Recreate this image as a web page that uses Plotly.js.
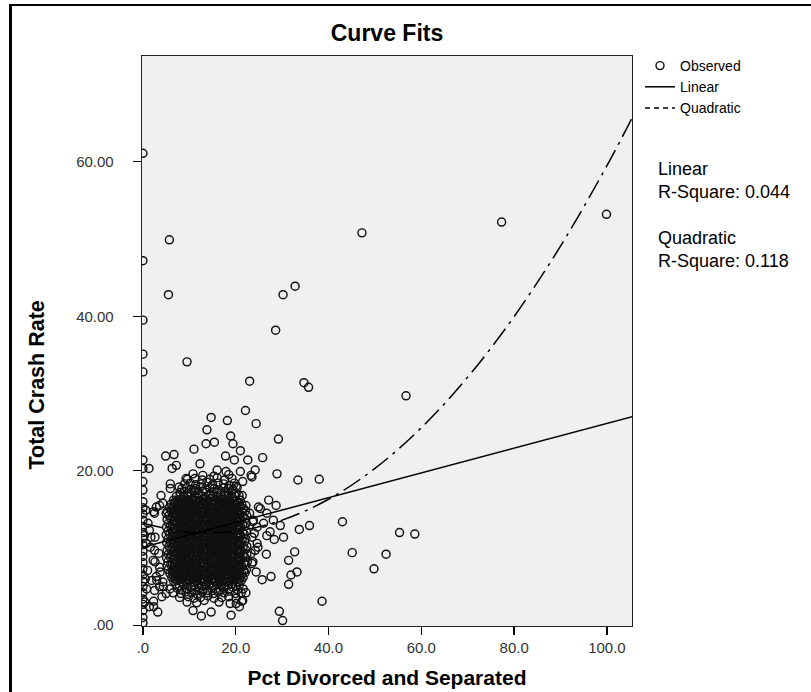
<!DOCTYPE html>
<html><head><meta charset="utf-8">
<script src="https://cdn.plot.ly/plotly-3.0.1.min.js"></script>
<style>
html,body{margin:0;padding:0;background:#fff;overflow:hidden}
#wrap{position:relative;width:811px;height:692px}
#chart{width:811px;height:692px}
#frame{position:absolute;left:9px;top:4px;width:1000px;height:1000px;border-left:3px solid #000;border-top:2px solid #000;pointer-events:none}
</style></head><body>
<div id="wrap"><div id="chart"></div><div id="frame"></div></div>
<script>
// ---- Tick labels ----
const xTickVals = [0, 20, 40, 60, 80, 100];
const xTickText = ['.0', '20.0', '40.0', '60.0', '80.0', '100.0'];
const yTickVals = [0, 20, 40, 60];
const yTickText = ['.00', '20.00', '40.00', '60.00'];

// ---- Observed: scattered points (Pct Divorced and Separated, Total Crash Rate) ----
const outlierPct = [
  0, 5.7, 0, 47.2, 77.3, 99.9, 5.5, 30.2, 32.8, 0,
  28.6, 0, 0, 9.5, 23.0, 34.7, 35.7, 56.7, 24.4, 29.2,
  25.8, 24.2, 23.5, 28.9, 33.4, 38.0, 27.1, 28.7, 25.3, 29.6,
  33.7, 35.9, 43.0, 55.3, 58.6, 30.3, 28.3, 26.6, 32.7, 45.1,
  52.4, 31.4, 49.8, 33.2, 31.9, 25.7, 27.6, 31.4, 38.6, 29.4,
  30.1, 23.8, 24.6, 26.0, 23.5, 24.6, 24.2, 23.5, 27.4, 26.7,
  22.1, 14.7, 18.2, 13.8, 18.9, 13.6, 15.4, 19.4, 11.0, 21.0,
  4.9, 6.7, 17.8, 19.7, 22.6, 12.3, 7.2, 6.3, 0, 0,
  1.3, 16.0, 17.9, 21.0, 23.3, 9.3, 10.8, 12.9, 15.3, 18.5,
  20.1, 21.5, 5.9, 5.9, 7.8, 3.9, 0, 0, 0, 21.4,
  3.6, 1.1, 1.4, 0.7, 2.5, 2.2, 3.6, 2.9, 4.3, 3.6,
  2.5, 5.0, 1.4, 3.2, 0, 10.8, 12.6, 14.7, 19.0, 20.8,
  21.5, 20.1, 22.2, 2.9, 4.3, 5.0, 2.5, 23.7, 23.3, 24.8,
  24.0, 23.7, 23.0, 22.2, 24.4, 0, 0, 0, 0, 0,
  0, 0, 0, 0, 0, 0, 0, 0, 0, 0,
  0, 0, 0, 0, 0.4, 0.5, 0.3, 0.6, 1.0, 0.8,
  1.7, 1.9, 24.9, 26.7, 28.1, 2.3, 2.6, 1.6, 3.4, 2.6,
  3.7, 3.0, 4.4, 4.1, 2.3, 2.3
];
const outlierCrash = [
  61.1, 49.9, 47.2, 50.8, 52.2, 53.2, 42.8, 42.8, 43.9, 39.5,
  38.2, 35.1, 32.8, 34.1, 31.6, 31.4, 30.8, 29.7, 26.1, 24.1,
  21.7, 20.1, 19.2, 19.6, 18.8, 18.9, 16.2, 15.5, 15.1, 12.9,
  12.4, 12.9, 13.4, 12.0, 11.8, 11.4, 11.1, 9.2, 9.5, 9.4,
  9.2, 8.4, 7.3, 6.9, 6.5, 5.9, 6.3, 5.3, 3.1, 1.8,
  0.6, 13.6, 12.7, 13.2, 11.4, 10.6, 9.7, 8.0, 12.1, 11.6,
  27.8, 26.9, 26.5, 25.3, 24.5, 23.5, 23.7, 23.5, 22.8, 22.6,
  21.9, 22.1, 21.9, 21.4, 21.4, 20.9, 20.7, 20.3, 21.4, 20.3,
  20.3, 20.1, 19.9, 19.9, 19.4, 19.0, 19.6, 19.4, 19.3, 19.5,
  18.0, 18.6, 18.3, 17.7, 17.9, 16.8, 18.6, 17.5, 16.0, 16.8,
  15.5, 13.2, 12.3, 10.6, 9.7, 8.4, 7.5, 6.3, 5.6, 5.0,
  4.5, 4.1, 2.4, 1.7, 1.9, 1.9, 1.2, 1.7, 1.3, 2.4,
  3.2, 2.8, 4.2, 15.3, 15.8, 14.5, 14.5, 8.2, 9.3, 10.1,
  11.9, 13.4, 14.5, 15.5, 6.9, 0.3, 1.0, 2.7, 3.4, 4.2,
  5.0, 5.7, 6.5, 7.3, 8.1, 8.9, 9.6, 10.4, 11.2, 12.0,
  12.8, 13.6, 14.4, 15.2, 3.0, 6.0, 11.6, 14.9, 7.1, 4.7,
  11.4, 5.8, 15.3, 14.5, 13.6, 14.7, 11.4, 10.1, 9.3, 8.2,
  6.9, 5.8, 5.0, 3.7, 3.1, 2.4
];

// ---- Observed: dense cluster, read row by row ----
const clusterPct = [
  9.5, 11.6, 13.2, 16.4, 18.8, 21.3,
  7.9, 9.8, 11.0, 12.4, 14.0, 15.3, 17.0, 18.5, 20.1,
  6.5, 8.2, 9.3, 10.5, 11.7, 12.8, 13.9, 15.2, 16.3, 17.5, 18.7, 19.9, 21.2,
  5.8, 7.4, 8.4, 9.4, 10.3, 11.2, 12.1, 13.0, 13.9, 14.8, 15.7, 16.6, 17.5, 18.5, 19.4, 20.4, 21.6,
  7.1, 7.9, 8.8, 9.5, 10.4, 11.1, 12.0, 12.7, 13.6, 14.3, 15.2, 15.9, 16.8, 17.5, 18.4, 19.1, 20.0, 20.8,
  6.6, 7.4, 8.3, 9.1, 9.9, 10.8, 11.5, 12.4, 13.2, 14.0, 14.8, 15.6, 16.4, 17.2, 18.0, 18.8, 19.6, 20.5, 21.2,
  6.2, 7.0, 7.8, 8.7, 9.4, 10.3, 11.1, 11.9, 12.8, 13.5, 14.4, 15.2, 16.0, 16.9, 17.6, 18.5, 19.3, 20.1, 20.9, 21.6,
  5.8, 6.6, 7.5, 8.2, 9.0, 9.9, 10.7, 11.5, 12.3, 13.1, 14.0, 14.7, 15.6, 16.4, 17.2, 18.0, 18.9, 19.7, 20.5, 21.3, 22.0,
  5.5, 6.3, 7.1, 7.9, 8.7, 9.5, 10.3, 11.1, 12.0, 12.7, 13.6, 14.4, 15.2, 16.0, 16.8, 17.7, 18.4, 19.3, 20.1, 20.9, 21.7, 22.3,
  5.2, 6.0, 6.8, 7.6, 8.4, 9.2, 10.0, 10.8, 11.6, 12.4, 13.2, 14.0, 14.8, 15.6, 16.4, 17.3, 18.1, 18.9, 19.7, 20.5, 21.3, 22.1,
  5.4, 6.3, 7.1, 7.9, 8.7, 9.5, 10.4, 11.2, 12.0, 12.8, 13.6, 14.4, 15.3, 16.1, 16.9, 17.7, 18.5, 19.3, 20.2, 21.0, 21.8, 22.5,
  5.1, 5.9, 6.7, 7.5, 8.3, 9.1, 9.9, 10.7, 11.5, 12.3, 13.1, 13.9, 14.7, 15.5, 16.3, 17.1, 17.9, 18.8, 19.6, 20.4, 21.2, 22.0,
  5.5, 6.2, 7.1, 7.8, 8.7, 9.4, 10.3, 11.0, 11.9, 12.6, 13.5, 14.3, 15.1, 15.9, 16.7, 17.5, 18.3, 19.1, 19.9, 20.8, 21.6, 22.4,
  5.2, 6.0, 6.8, 7.6, 8.4, 9.2, 10.0, 10.8, 11.6, 12.4, 13.2, 14.0, 14.8, 15.6, 16.4, 17.2, 18.0, 18.8, 19.6, 20.4, 21.2, 22.1,
  5.6, 6.4, 7.2, 8.0, 8.8, 9.6, 10.4, 11.2, 12.0, 12.8, 13.6, 14.4, 15.2, 16.0, 16.8, 17.6, 18.4, 19.2, 20.0, 20.8, 21.6, 22.4,
  5.1, 5.9, 6.7, 7.5, 8.3, 9.1, 9.9, 10.7, 11.5, 12.3, 13.1, 13.9, 14.7, 15.5, 16.3, 17.1, 17.9, 18.7, 19.5, 20.3, 21.1, 21.9,
  5.4, 6.2, 7.0, 7.8, 8.6, 9.4, 10.2, 11.0, 11.8, 12.6, 13.4, 14.2, 15.0, 15.8, 16.6, 17.4, 18.2, 19.0, 19.8, 20.6, 21.4, 22.2,
  5.0, 5.8, 6.6, 7.4, 8.2, 9.0, 9.8, 10.6, 11.4, 12.2, 13.0, 13.8, 14.6, 15.4, 16.2, 17.0, 17.8, 18.6, 19.4, 20.2, 21.0, 21.8,
  5.4, 6.3, 7.1, 7.9, 8.7, 9.5, 10.3, 11.1, 11.9, 12.7, 13.5, 14.3, 15.1, 15.9, 16.7, 17.5, 18.3, 19.1, 19.9, 20.7, 21.5, 22.3,
  5.1, 5.9, 6.7, 7.5, 8.3, 9.1, 9.9, 10.7, 11.5, 12.3, 13.1, 13.9, 14.7, 15.5, 16.3, 17.1, 17.9, 18.7, 19.5, 20.3, 21.1, 21.9,
  5.5, 6.3, 7.1, 7.9, 8.7, 9.5, 10.3, 11.1, 11.9, 12.7, 13.5, 14.3, 15.1, 15.9, 16.7, 17.5, 18.3, 19.1, 19.9, 20.7, 21.5, 22.3,
  5.2, 6.0, 6.8, 7.6, 8.4, 9.2, 10.0, 10.8, 11.6, 12.4, 13.2, 14.0, 14.8, 15.6, 16.4, 17.2, 18.0, 18.8, 19.6, 20.4, 21.2, 22.0,
  5.6, 6.4, 7.2, 8.0, 8.8, 9.6, 10.4, 11.2, 12.0, 12.8, 13.6, 14.4, 15.2, 16.0, 16.8, 17.6, 18.4, 19.2, 20.0, 20.8, 21.6, 22.4,
  5.3, 6.1, 6.9, 7.7, 8.5, 9.3, 10.1, 10.9, 11.7, 12.5, 13.3, 14.1, 14.9, 15.7, 16.5, 17.3, 18.1, 18.9, 19.7, 20.5, 21.3, 22.1,
  5.7, 6.5, 7.3, 8.1, 8.9, 9.7, 10.5, 11.3, 12.1, 12.9, 13.7, 14.5, 15.3, 16.1, 16.9, 17.7, 18.5, 19.3, 20.1, 20.9, 21.7,
  6.1, 6.9, 7.7, 8.5, 9.3, 10.1, 10.9, 11.7, 12.5, 13.3, 14.1, 14.9, 15.7, 16.5, 17.3, 18.1, 18.9, 19.7, 20.5, 21.3,
  6.6, 7.4, 8.2, 9.0, 9.8, 10.6, 11.4, 12.2, 13.0, 13.8, 14.6, 15.4, 16.2, 17.0, 17.8, 18.6, 19.4, 20.2, 21.0,
  7.2, 8.0, 8.8, 9.6, 10.4, 11.2, 12.0, 12.8, 13.6, 14.4, 15.2, 16.0, 16.8, 17.6, 18.4, 19.2, 20.0, 20.7,
  8.0, 8.8, 9.6, 10.4, 11.2, 12.0, 12.8, 13.6, 14.4, 15.2, 16.0, 16.8, 17.6, 18.4, 19.2, 20.1,
  8.4, 9.4, 10.4, 11.4, 12.4, 13.4, 14.4, 15.4, 16.4, 17.4, 18.4, 19.4, 20.3,
  9.0, 10.2, 11.4, 12.6, 13.8, 15.0, 16.2, 17.4, 18.6, 19.7,
  9.6, 11.2, 12.8, 14.4, 16.0, 17.6, 19.2
];
const clusterCrash = [
  3.0, 2.9, 3.2, 3.0, 2.8, 3.1,
  3.6, 3.7, 3.5, 3.6, 3.8, 3.5, 3.6, 3.7, 3.5,
  4.2, 4.1, 4.3, 4.2, 4.0, 4.3, 4.2, 4.1, 4.3, 4.2, 4.4, 4.1, 4.2,
  4.7, 4.8, 4.6, 4.7, 4.9, 4.6, 4.8, 4.7, 4.5, 4.8, 4.7, 4.6, 4.8, 4.7, 4.9, 4.6, 4.7,
  5.3, 5.1, 5.2, 5.4, 5.0, 5.2, 5.3, 5.1, 5.2, 5.4, 5.1, 5.2, 5.3, 5.0, 5.2, 5.3, 5.1, 5.2,
  5.7, 5.8, 5.6, 5.7, 5.9, 5.6, 5.7, 5.8, 5.6, 5.7, 5.9, 5.6, 5.8, 5.7, 5.6, 5.8, 5.7, 5.6, 5.8,
  6.2, 6.3, 6.1, 6.2, 6.4, 6.1, 6.3, 6.2, 6.0, 6.3, 6.2, 6.1, 6.3, 6.2, 6.4, 6.1, 6.2, 6.3, 6.1, 6.2,
  6.7, 6.8, 6.6, 6.7, 6.9, 6.6, 6.8, 6.7, 6.5, 6.8, 6.7, 6.6, 6.8, 6.7, 6.9, 6.6, 6.7, 6.8, 6.6, 6.7, 6.8,
  7.2, 7.1, 7.3, 7.2, 7.0, 7.3, 7.2, 7.1, 7.3, 7.2, 7.4, 7.1, 7.2, 7.3, 7.1, 7.2, 7.4, 7.1, 7.2, 7.3, 7.1, 7.2,
  7.7, 7.8, 7.6, 7.7, 7.9, 7.6, 7.7, 7.8, 7.6, 7.7, 7.9, 7.7, 7.6, 7.8, 7.7, 7.6, 7.8, 7.7, 7.9, 7.6, 7.7, 7.8,
  8.2, 8.1, 8.3, 8.2, 8.0, 8.3, 8.2, 8.1, 8.3, 8.2, 8.4, 8.1, 8.2, 8.3, 8.1, 8.2, 8.4, 8.1, 8.2, 8.3, 8.1, 8.2,
  8.7, 8.8, 8.6, 8.7, 8.9, 8.6, 8.7, 8.8, 8.6, 8.7, 8.9, 8.7, 8.6, 8.8, 8.7, 8.6, 8.8, 8.7, 8.9, 8.6, 8.7, 8.8,
  9.2, 9.1, 9.3, 9.2, 9.0, 9.3, 9.2, 9.1, 9.3, 9.2, 9.4, 9.1, 9.2, 9.3, 9.1, 9.2, 9.4, 9.1, 9.2, 9.3, 9.1, 9.2,
  9.7, 9.8, 9.6, 9.7, 9.9, 9.6, 9.7, 9.8, 9.6, 9.7, 9.9, 9.7, 9.6, 9.8, 9.7, 9.6, 9.8, 9.7, 9.9, 9.6, 9.7, 9.8,
  10.2, 10.1, 10.3, 10.2, 10.0, 10.3, 10.2, 10.1, 10.3, 10.2, 10.4, 10.1, 10.2, 10.3, 10.1, 10.2, 10.4, 10.1, 10.2, 10.3, 10.1, 10.2,
  10.7, 10.8, 10.6, 10.7, 10.9, 10.6, 10.7, 10.8, 10.6, 10.7, 10.9, 10.7, 10.6, 10.8, 10.7, 10.6, 10.8, 10.7, 10.9, 10.6, 10.7, 10.8,
  11.2, 11.1, 11.3, 11.2, 11.0, 11.3, 11.2, 11.1, 11.3, 11.2, 11.4, 11.1, 11.2, 11.3, 11.1, 11.2, 11.4, 11.1, 11.2, 11.3, 11.1, 11.2,
  11.7, 11.8, 11.6, 11.7, 11.9, 11.6, 11.7, 11.8, 11.6, 11.7, 11.9, 11.7, 11.6, 11.8, 11.7, 11.6, 11.8, 11.7, 11.9, 11.6, 11.7, 11.8,
  12.2, 12.1, 12.3, 12.2, 12.0, 12.3, 12.2, 12.1, 12.3, 12.2, 12.4, 12.1, 12.2, 12.3, 12.1, 12.2, 12.4, 12.1, 12.2, 12.3, 12.1, 12.2,
  12.7, 12.8, 12.6, 12.7, 12.9, 12.6, 12.7, 12.8, 12.6, 12.7, 12.9, 12.7, 12.6, 12.8, 12.7, 12.6, 12.8, 12.7, 12.9, 12.6, 12.7, 12.8,
  13.2, 13.1, 13.3, 13.2, 13.0, 13.3, 13.2, 13.1, 13.3, 13.2, 13.4, 13.1, 13.2, 13.3, 13.1, 13.2, 13.4, 13.1, 13.2, 13.3, 13.1, 13.2,
  13.7, 13.8, 13.6, 13.7, 13.9, 13.6, 13.7, 13.8, 13.6, 13.7, 13.9, 13.7, 13.6, 13.8, 13.7, 13.6, 13.8, 13.7, 13.9, 13.6, 13.7, 13.8,
  14.2, 14.1, 14.3, 14.2, 14.0, 14.3, 14.2, 14.1, 14.3, 14.2, 14.4, 14.1, 14.2, 14.3, 14.1, 14.2, 14.4, 14.1, 14.2, 14.3, 14.1, 14.2,
  14.7, 14.8, 14.6, 14.7, 14.9, 14.6, 14.7, 14.8, 14.6, 14.7, 14.9, 14.7, 14.6, 14.8, 14.7, 14.6, 14.8, 14.7, 14.9, 14.6, 14.7, 14.8,
  15.2, 15.1, 15.3, 15.2, 15.0, 15.3, 15.2, 15.1, 15.3, 15.2, 15.4, 15.1, 15.2, 15.3, 15.1, 15.2, 15.4, 15.1, 15.2, 15.3, 15.1,
  15.7, 15.8, 15.6, 15.7, 15.9, 15.6, 15.7, 15.8, 15.6, 15.7, 15.9, 15.7, 15.6, 15.8, 15.7, 15.6, 15.8, 15.7, 15.9, 15.6,
  16.2, 16.1, 16.3, 16.2, 16.0, 16.3, 16.2, 16.1, 16.3, 16.2, 16.4, 16.1, 16.2, 16.3, 16.1, 16.2, 16.4, 16.1, 16.2,
  16.7, 16.8, 16.6, 16.7, 16.9, 16.6, 16.8, 16.7, 16.5, 16.8, 16.7, 16.6, 16.8, 16.7, 16.9, 16.6, 16.7, 16.8,
  17.2, 17.3, 17.1, 17.2, 17.4, 17.1, 17.3, 17.2, 17.0, 17.3, 17.2, 17.1, 17.3, 17.2, 17.4, 17.1,
  17.7, 17.8, 17.6, 17.7, 17.9, 17.6, 17.8, 17.7, 17.5, 17.8, 17.7, 17.6, 17.8,
  18.3, 18.4, 18.2, 18.3, 18.5, 18.2, 18.4, 18.3, 18.1, 18.4,
  18.9, 19.0, 18.8, 18.9, 19.1, 18.8, 19.0
];

// ---- Observed: core of the cluster, rows between the rows above ----
const corePct = [
  6.9, 7.7, 8.5, 9.3, 10.1, 10.9, 11.7, 12.5, 13.3, 14.1, 14.9, 15.7, 16.5, 17.3, 18.1, 18.9, 19.7, 20.5,
  6.5, 7.3, 8.1, 8.9, 9.7, 10.5, 11.3, 12.1, 12.9, 13.7, 14.5, 15.3, 16.1, 16.9, 17.7, 18.5, 19.3, 20.1, 20.9,
  6.9, 7.7, 8.5, 9.3, 10.1, 10.9, 11.7, 12.5, 13.3, 14.1, 14.9, 15.7, 16.5, 17.3, 18.1, 18.9, 19.7, 20.5,
  6.5, 7.3, 8.1, 8.9, 9.7, 10.5, 11.3, 12.1, 12.9, 13.7, 14.5, 15.3, 16.1, 16.9, 17.7, 18.5, 19.3, 20.1, 20.9,
  6.9, 7.7, 8.5, 9.3, 10.1, 10.9, 11.7, 12.5, 13.3, 14.1, 14.9, 15.7, 16.5, 17.3, 18.1, 18.9, 19.7, 20.5,
  6.5, 7.3, 8.1, 8.9, 9.7, 10.5, 11.3, 12.1, 12.9, 13.7, 14.5, 15.3, 16.1, 16.9, 17.7, 18.5, 19.3, 20.1, 20.9,
  6.9, 7.7, 8.5, 9.3, 10.1, 10.9, 11.7, 12.5, 13.3, 14.1, 14.9, 15.7, 16.5, 17.3, 18.1, 18.9, 19.7, 20.5,
  6.5, 7.3, 8.1, 8.9, 9.7, 10.5, 11.3, 12.1, 12.9, 13.7, 14.5, 15.3, 16.1, 16.9, 17.7, 18.5, 19.3, 20.1, 20.9,
  6.9, 7.7, 8.5, 9.3, 10.1, 10.9, 11.7, 12.5, 13.3, 14.1, 14.9, 15.7, 16.5, 17.3, 18.1, 18.9, 19.7, 20.5,
  6.5, 7.3, 8.1, 8.9, 9.7, 10.5, 11.3, 12.1, 12.9, 13.7, 14.5, 15.3, 16.1, 16.9, 17.7, 18.5, 19.3, 20.1, 20.9,
  6.9, 7.7, 8.5, 9.3, 10.1, 10.9, 11.7, 12.5, 13.3, 14.1, 14.9, 15.7, 16.5, 17.3, 18.1, 18.9, 19.7, 20.5,
  6.5, 7.3, 8.1, 8.9, 9.7, 10.5, 11.3, 12.1, 12.9, 13.7, 14.5, 15.3, 16.1, 16.9, 17.7, 18.5, 19.3, 20.1, 20.9,
  6.9, 7.7, 8.5, 9.3, 10.1, 10.9, 11.7, 12.5, 13.3, 14.1, 14.9, 15.7, 16.5, 17.3, 18.1, 18.9, 19.7, 20.5,
  6.5, 7.3, 8.1, 8.9, 9.7, 10.5, 11.3, 12.1, 12.9, 13.7, 14.5, 15.3, 16.1, 16.9, 17.7, 18.5, 19.3, 20.1, 20.9,
  6.9, 7.7, 8.5, 9.3, 10.1, 10.9, 11.7, 12.5, 13.3, 14.1, 14.9, 15.7, 16.5, 17.3, 18.1, 18.9, 19.7, 20.5,
  6.5, 7.3, 8.1, 8.9, 9.7, 10.5, 11.3, 12.1, 12.9, 13.7, 14.5, 15.3, 16.1, 16.9, 17.7, 18.5, 19.3, 20.1, 20.9,
  6.9, 7.7, 8.5, 9.3, 10.1, 10.9, 11.7, 12.5, 13.3, 14.1, 14.9, 15.7, 16.5, 17.3, 18.1, 18.9, 19.7, 20.5,
  6.5, 7.3, 8.1, 8.9, 9.7, 10.5, 11.3, 12.1, 12.9, 13.7, 14.5, 15.3, 16.1, 16.9, 17.7, 18.5, 19.3, 20.1, 20.9,
  6.9, 7.7, 8.5, 9.3, 10.1, 10.9, 11.7, 12.5, 13.3, 14.1, 14.9, 15.7, 16.5, 17.3, 18.1, 18.9, 19.7, 20.5,
  6.5, 7.3, 8.1, 8.9, 9.7, 10.5, 11.3, 12.1, 12.9, 13.7, 14.5, 15.3, 16.1, 16.9, 17.7, 18.5, 19.3, 20.1, 20.9,
  6.9, 7.7, 8.5, 9.3, 10.1, 10.9, 11.7, 12.5, 13.3, 14.1, 14.9, 15.7, 16.5, 17.3, 18.1, 18.9, 19.7, 20.5
];
const coreCrash = [
  5.95, 5.9, 6.0, 5.95, 5.85, 6.05, 5.95, 6.0, 5.9, 5.95, 6.05, 5.85, 5.95, 5.9, 6.0, 5.95, 6.05, 5.9,
  6.45, 6.5, 6.4, 6.45, 6.55, 6.35, 6.45, 6.4, 6.5, 6.45, 6.35, 6.55, 6.45, 6.5, 6.4, 6.45, 6.35, 6.5, 6.45,
  6.95, 6.9, 7.0, 6.95, 6.85, 7.05, 6.95, 7.0, 6.9, 6.95, 7.05, 6.85, 6.95, 6.9, 7.0, 6.95, 7.05, 6.9,
  7.45, 7.5, 7.4, 7.45, 7.55, 7.35, 7.45, 7.4, 7.5, 7.45, 7.35, 7.55, 7.45, 7.5, 7.4, 7.45, 7.35, 7.5, 7.45,
  7.95, 7.9, 8.0, 7.95, 7.85, 8.05, 7.95, 8.0, 7.9, 7.95, 8.05, 7.85, 7.95, 7.9, 8.0, 7.95, 8.05, 7.9,
  8.45, 8.5, 8.4, 8.45, 8.55, 8.35, 8.45, 8.4, 8.5, 8.45, 8.35, 8.55, 8.45, 8.5, 8.4, 8.45, 8.35, 8.5, 8.45,
  8.95, 8.9, 9.0, 8.95, 8.85, 9.05, 8.95, 9.0, 8.9, 8.95, 9.05, 8.85, 8.95, 8.9, 9.0, 8.95, 9.05, 8.9,
  9.45, 9.5, 9.4, 9.45, 9.55, 9.35, 9.45, 9.4, 9.5, 9.45, 9.35, 9.55, 9.45, 9.5, 9.4, 9.45, 9.35, 9.5, 9.45,
  9.95, 9.9, 10.0, 9.95, 9.85, 10.05, 9.95, 10.0, 9.9, 9.95, 10.05, 9.85, 9.95, 9.9, 10.0, 9.95, 10.05, 9.9,
  10.45, 10.5, 10.4, 10.45, 10.55, 10.35, 10.45, 10.4, 10.5, 10.45, 10.35, 10.55, 10.45, 10.5, 10.4, 10.45, 10.35, 10.5, 10.45,
  10.95, 10.9, 11.0, 10.95, 10.85, 11.05, 10.95, 11.0, 10.9, 10.95, 11.05, 10.85, 10.95, 10.9, 11.0, 10.95, 11.05, 10.9,
  11.45, 11.5, 11.4, 11.45, 11.55, 11.35, 11.45, 11.4, 11.5, 11.45, 11.35, 11.55, 11.45, 11.5, 11.4, 11.45, 11.35, 11.5, 11.45,
  11.95, 11.9, 12.0, 11.95, 11.85, 12.05, 11.95, 12.0, 11.9, 11.95, 12.05, 11.85, 11.95, 11.9, 12.0, 11.95, 12.05, 11.9,
  12.45, 12.5, 12.4, 12.45, 12.55, 12.35, 12.45, 12.4, 12.5, 12.45, 12.35, 12.55, 12.45, 12.5, 12.4, 12.45, 12.35, 12.5, 12.45,
  12.95, 12.9, 13.0, 12.95, 12.85, 13.05, 12.95, 13.0, 12.9, 12.95, 13.05, 12.85, 12.95, 12.9, 13.0, 12.95, 13.05, 12.9,
  13.45, 13.5, 13.4, 13.45, 13.55, 13.35, 13.45, 13.4, 13.5, 13.45, 13.35, 13.55, 13.45, 13.5, 13.4, 13.45, 13.35, 13.5, 13.45,
  13.95, 13.9, 14.0, 13.95, 13.85, 14.05, 13.95, 14.0, 13.9, 13.95, 14.05, 13.85, 13.95, 13.9, 14.0, 13.95, 14.05, 13.9,
  14.45, 14.5, 14.4, 14.45, 14.55, 14.35, 14.45, 14.4, 14.5, 14.45, 14.35, 14.55, 14.45, 14.5, 14.4, 14.45, 14.35, 14.5, 14.45,
  14.95, 14.9, 15.0, 14.95, 14.85, 15.05, 14.95, 15.0, 14.9, 14.95, 15.05, 14.85, 14.95, 14.9, 15.0, 14.95, 15.05, 14.9,
  15.45, 15.5, 15.4, 15.45, 15.55, 15.35, 15.45, 15.4, 15.5, 15.45, 15.35, 15.55, 15.45, 15.5, 15.4, 15.45, 15.35, 15.5, 15.45,
  15.95, 15.9, 16.0, 15.95, 15.85, 16.05, 15.95, 16.0, 15.9, 15.95, 16.05, 15.85, 15.95, 15.9, 16.0, 15.95, 16.05, 15.9
];

// ---- Fitted curves ----
const linearX = [0, 106];
const linearY = [10.1, 27.1];
const quadX = [0, 10, 20, 30, 40, 50, 60, 70, 80, 90, 100, 106];
const quadY = [13.2, 12.05, 12.19, 13.61, 16.31, 20.3, 25.57, 32.13, 39.97, 49.09, 59.5, 66.36];

// ---- R-square values ----
const fitNames = ['Linear', 'Quadratic'];
const rSquare = ['0.044', '0.118'];

const FONT = '"Liberation Sans", Arial, Helvetica, sans-serif';
const obsX = outlierPct.concat(clusterPct, corePct);
const obsY = outlierCrash.concat(clusterCrash, coreCrash);

const traces = [
  {type: 'scatter', mode: 'markers', name: 'Observed', x: obsX, y: obsY,
   marker: {symbol: 'circle-open', size: 8, color: '#111', line: {width: 1.45, color: '#111'}}},
  {type: 'scatter', mode: 'lines', name: fitNames[0], x: linearX, y: linearY,
   line: {color: '#000', width: 1.5}},
  {type: 'scatter', mode: 'lines', name: fitNames[1], x: quadX, y: quadY, showlegend: false,
   line: {color: '#000', width: 1.5, dash: '20px,6px,3px,6px', shape: 'spline'}},
  {type: 'scatter', mode: 'lines', name: fitNames[1], x: [null], y: [null],
   line: {color: '#000', width: 1.5, dash: '5px,4px'}}
];

const L = 142, R = 632, T = 56, B = 626;
const pw = R - L, ph = B - T;
const px = v => (v - L) / pw;
const py = v => (B - v) / ph;

const layout = {
  width: 811, height: 692,
  margin: {l: L, r: 811 - R, t: T, b: 692 - B, pad: 0},
  paper_bgcolor: '#ffffff', plot_bgcolor: '#f0f0f0',
  font: {family: FONT, color: '#000'},
  title: {text: '<b>Curve Fits</b>', font: {family: FONT, size: 23, color: '#000'},
          x: 0.5, xref: 'paper', xanchor: 'center', y: 1 - 33 / 692, yref: 'container', yanchor: 'middle'},
  showlegend: true,
  legend: {x: px(640), xanchor: 'left', y: py(50), yanchor: 'top', bgcolor: 'rgba(0,0,0,0)',
           font: {family: FONT, size: 14, color: '#000'}, tracegroupgap: 0},
  xaxis: {range: [-0.2, 105.4], tickmode: 'array', tickvals: xTickVals, ticktext: xTickText,
          ticks: 'outside', ticklen: 8, tickwidth: 1.3, tickcolor: '#000',
          showline: true, linecolor: '#222', linewidth: 1.3, mirror: true,
          showgrid: false, zeroline: false, tickfont: {family: FONT, size: 15, color: '#333'},
          title: {text: '<b>Pct Divorced and Separated</b>', font: {family: FONT, size: 21, color: '#000'}, standoff: 15}},
  yaxis: {range: [-0.1, 73.7], tickmode: 'array', tickvals: yTickVals, ticktext: yTickText,
          ticks: 'outside', ticklen: 8, tickwidth: 1.3, tickcolor: '#000', ticklabelstandoff: 16,
          showline: true, linecolor: '#222', linewidth: 1.3, mirror: true,
          showgrid: false, zeroline: false, tickfont: {family: FONT, size: 15, color: '#333'}},
  annotations: [
    {text: '<b>Total Crash Rate</b>', textangle: -90, xref: 'paper', yref: 'paper',
     x: px(36), y: py(385.5), xanchor: 'center', yanchor: 'middle', showarrow: false,
     font: {family: FONT, size: 21.5, color: '#000'}},
    {text: fitNames[0] + '<br>R-Square: ' + rSquare[0], xref: 'paper', yref: 'paper',
     x: px(656), y: py(180.5), xanchor: 'left', yanchor: 'middle', align: 'left', showarrow: false,
     font: {family: FONT, size: 18, color: '#000'}},
    {text: fitNames[1] + '<br>R-Square: ' + rSquare[1], xref: 'paper', yref: 'paper',
     x: px(656), y: py(249.9), xanchor: 'left', yanchor: 'middle', align: 'left', showarrow: false,
     font: {family: FONT, size: 18, color: '#000'}}
  ]
};

Plotly.newPlot('chart', traces, layout, {displayModeBar: false, staticPlot: true});
</script></body></html>
